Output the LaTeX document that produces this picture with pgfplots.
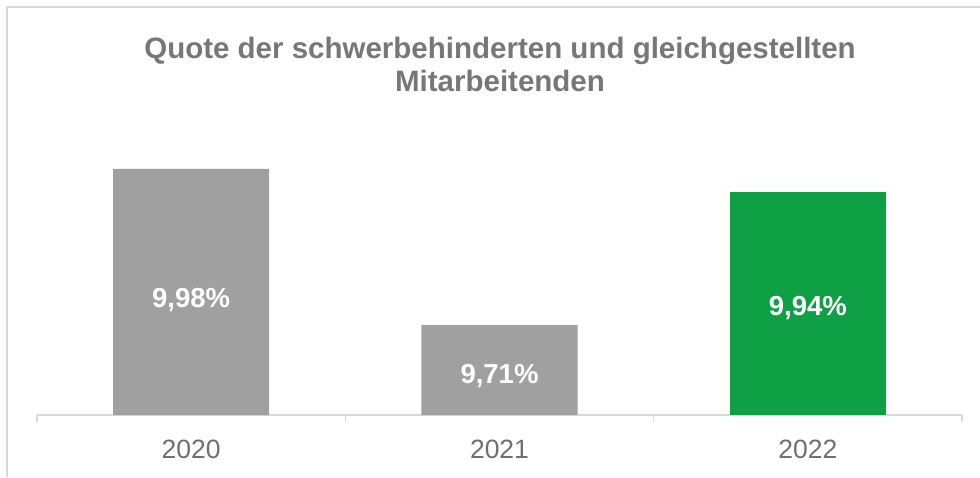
\documentclass[border=0pt]{standalone}
\usepackage{pgfplots}
\pgfplotsset{compat=1.18}
\usepackage{fontspec}
\setmainfont{Liberation Sans}
\definecolor{bargray}{HTML}{A0A0A0}
\definecolor{bargreen}{HTML}{0FA046}
\definecolor{titlegray}{HTML}{777777}
\definecolor{ticklab}{HTML}{6F6F6F}
\definecolor{framegray}{HTML}{D9D9D9}
\begin{document}
\begin{tikzpicture}[x=1pt,y=1pt]
\useasboundingbox (0,0) rectangle (980,477);
\draw[framegray, line width=1.5pt] (7,0) -- (7,470) -- (980,470);
\node[align=center, text=titlegray, font=\fontsize{29.5}{33}\selectfont\bfseries] at (500,413) {Quote der schwerbehinderten und gleichgestellten\\Mitarbeitenden};
\begin{axis}[
  at={(37pt,62pt)}, anchor=south west,
  scale only axis, width=925pt, height=288.9pt,
  xmin=-0.5, xmax=2.5, ymin=9.554, ymax=10.054,
  hide y axis,
  axis x line*=bottom,
  axis line style={framegray, line width=1.3pt},
  xtick={0,1,2}, xticklabels={2020,2021,2022},
  major tick length=0pt,
  xticklabel style={text=ticklab, font=\fontsize{26.5}{30}\selectfont, anchor=center, yshift=-34pt},
  extra x ticks={-0.5,0.5,1.5,2.5}, extra x tick labels={},
  extra x tick style={major tick length=7pt, tick align=outside, tick style={framegray, line width=1.3pt}},
  clip=false,
]
\addplot[ybar, bar width=0.506, bar shift=0pt, fill=bargray, draw=none] coordinates {(0,9.98) (1,9.71)};
\addplot[ybar, bar width=0.506, bar shift=0pt, fill=bargreen, draw=none] coordinates {(2,9.94)};
\addplot[draw=none, mark=none, nodes near coords, point meta=explicit symbolic,
  every node near coord/.style={anchor=center, text=white, font=\fontsize{27.5}{30}\selectfont\bfseries}]
  table[meta=lab] {
x y lab
0 9.7530 9,98\%
1 9.622 9,71\%
2 9.740 9,94\%
};
\end{axis}
\end{tikzpicture}
\end{document}
